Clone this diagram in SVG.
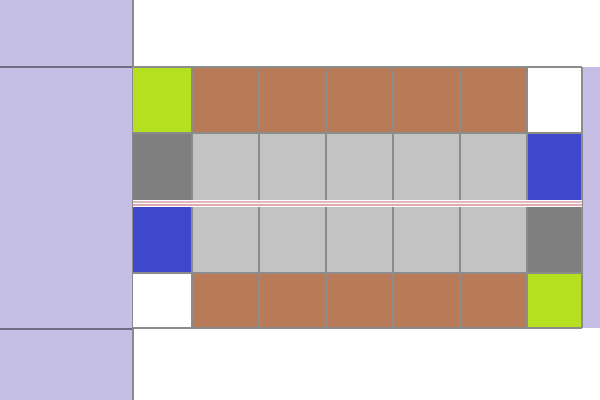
<svg xmlns="http://www.w3.org/2000/svg" width="600" height="400" viewBox="0 0 600 400">
<style>
.lav{fill:#c5bfe5}
.grn{fill:#b5e01f}
.brn{fill:#b97a57}
.lg{fill:#c3c3c3}
.dg{fill:#7f7f7f}
.blu{fill:#3f48cc}
.wht{fill:#ffffff}
.gl{stroke:#8c8c8c;stroke-width:2;fill:none}
</style>
<rect width="600" height="400" fill="#ffffff"/>
<g id="left-panel">
<rect class="lav" x="0" y="0" width="133" height="400"/>
<line x1="0" y1="67" x2="133" y2="67" stroke="#6e6c82" stroke-width="2"/>
<line x1="0" y1="329" x2="133" y2="329" stroke="#6e6c82" stroke-width="2"/>
<line x1="133" y1="0" x2="133" y2="400" stroke="#8a8a8a" stroke-width="2"/>
</g>
<g id="right-panel">
<rect class="lav" x="582" y="67" width="18" height="261"/>
</g>
<g id="row1">
<rect class="grn" x="133" y="67" width="59" height="66"/>
<rect class="brn" x="192" y="67" width="335" height="66"/>
<rect class="wht" x="527" y="67" width="55" height="66"/>
</g>
<g id="row2">
<rect class="dg" x="133" y="133" width="59" height="71"/>
<rect class="lg" x="192" y="133" width="335" height="71"/>
<rect class="blu" x="527" y="133" width="55" height="71"/>
</g>
<g id="row3">
<rect class="blu" x="133" y="204" width="59" height="69"/>
<rect class="lg" x="192" y="204" width="335" height="69"/>
<rect class="dg" x="527" y="204" width="55" height="69"/>
</g>
<g id="row4">
<rect class="wht" x="133" y="273" width="59" height="55"/>
<rect class="brn" x="192" y="273" width="335" height="55"/>
<rect class="grn" x="527" y="273" width="55" height="55"/>
</g>
<g id="connectors">
<line class="gl" x1="133" y1="67" x2="582" y2="67"/>
<line class="gl" x1="133" y1="133" x2="582" y2="133"/>
<line class="gl" x1="133" y1="273" x2="582" y2="273"/>
<line class="gl" x1="133" y1="328" x2="582" y2="328"/>
<line class="gl" x1="192" y1="67" x2="192" y2="328"/>
<line class="gl" x1="259" y1="67" x2="259" y2="328"/>
<line class="gl" x1="326" y1="67" x2="326" y2="328"/>
<line class="gl" x1="393" y1="67" x2="393" y2="328"/>
<line class="gl" x1="460" y1="67" x2="460" y2="328"/>
<line class="gl" x1="527" y1="67" x2="527" y2="328"/>
<line class="gl" x1="582" y1="67" x2="582" y2="328"/>
<rect x="133" y="200" width="449" height="7" fill="#ffffff"/>
<line x1="133" y1="202" x2="582" y2="202" stroke="#d9a0a6" stroke-width="1.5"/>
<line x1="133" y1="205" x2="582" y2="205" stroke="#d68e96" stroke-width="1.5"/>
</g>
</svg>
